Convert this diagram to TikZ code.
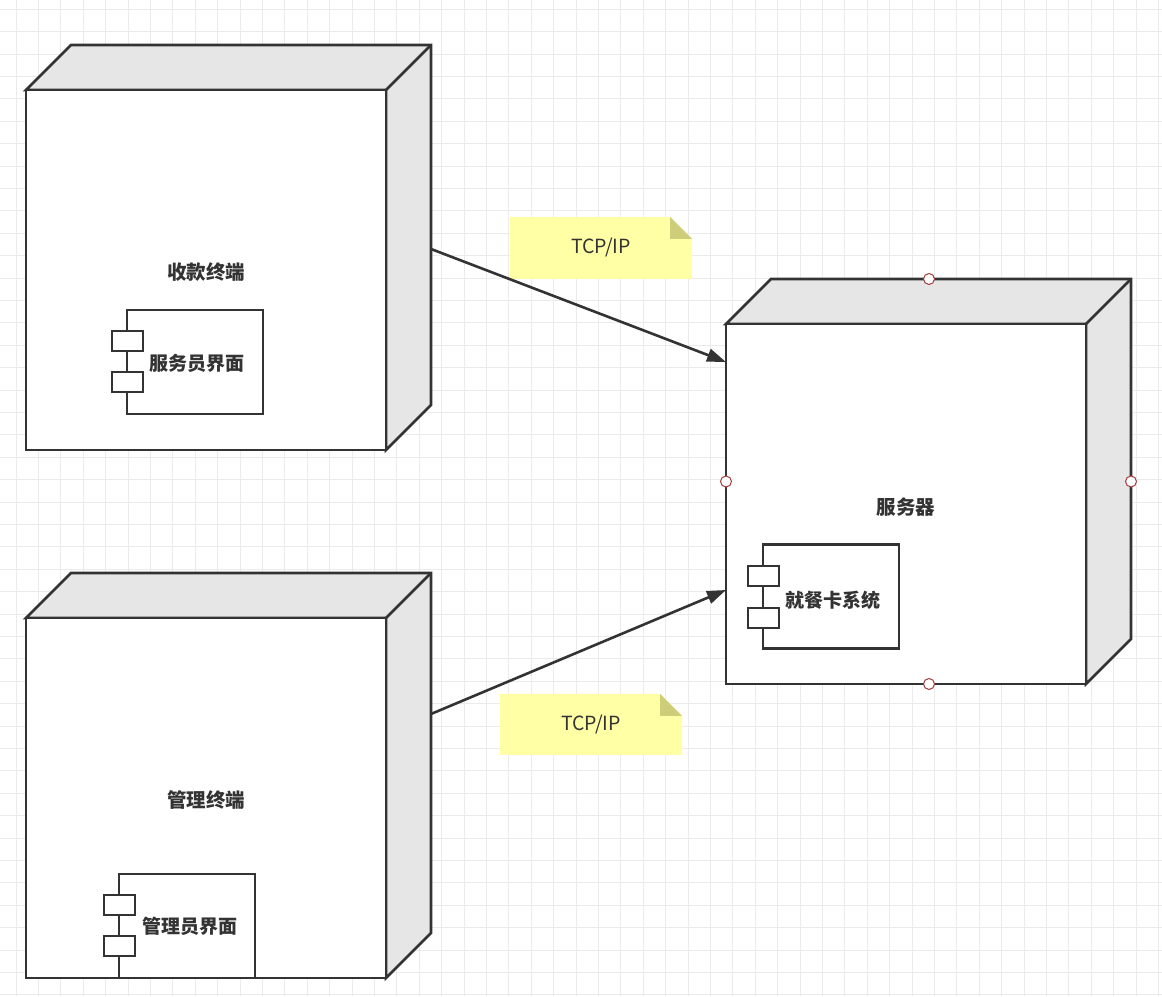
\documentclass[tikz,border=0pt]{standalone}
\usepackage{fontspec}
\setmainfont{Noto Sans CJK SC}
\usetikzlibrary{arrows.meta,calc}
\definecolor{ink}{HTML}{333333}
\definecolor{face}{HTML}{E6E6E6}
\definecolor{gridline}{HTML}{EBEBEB}
\definecolor{notefill}{HTML}{FFFFA6}
\definecolor{notefold}{HTML}{CDCD7A}
\definecolor{handle}{HTML}{A33B3B}
\tikzset{
  cube/.style={minimum width=405pt,minimum height=405pt,inner sep=0pt,outer sep=0pt},
  cubelabel/.style={font=\bfseries\fontsize{19.5}{22}\selectfont,text=ink},
  comp/.style={draw=ink,line width=2.4pt,fill=white,minimum width=136pt,minimum height=104pt,inner sep=0pt},
  port/.style={draw=ink,line width=2.4pt,fill=white,minimum width=31pt,minimum height=20pt,inner sep=0pt},
  complabel/.style={font=\bfseries\fontsize{19}{22}\selectfont,text=ink},
  edge/.style={draw=ink,line width=2.6pt,-{Triangle[length=19pt,width=13pt]}},
  notetext/.style={font=\fontsize{19.5}{22}\selectfont,text=ink},
  grip/.style={circle,draw=handle,line width=1pt,fill=white,minimum size=11pt,inner sep=0pt},
}
% three-dimensional deployment node: front face plus top and right faces
\newcommand{\deploynode}[1]{%
  \path[fill=face,draw=ink,line width=2.6pt,line join=miter]
    ($(#1.south west)+(0,360)$) -- ++(45,45) -- ++(360,0) -- ++(0,-360) -- ++(-45,-45) -- ++(0,360) -- cycle;
  \path[fill=white,draw=ink,line width=2.6pt]
    (#1.south west) rectangle ($(#1.south west)+(360,360)$);
  \draw[ink,line width=2.6pt] ($(#1.south west)+(360,360)$) -- ++(45,45);
}
% note with folded top-right corner
\newcommand{\notebox}[5]{% name, x0, y0(top), x1, y1(bottom)
  \fill[notefill] (#2,#3) -- (#4-22,#3) -- (#4,#3-22) -- (#4,#5) -- (#2,#5) -- cycle;
  \fill[notefold] (#4-22,#3) -- (#4,#3-22) -- (#4-22,#3-22) -- cycle;
  \coordinate (#1) at ({(#2+#4)/2},{(#3+#5)/2});
}
\begin{document}
\begin{tikzpicture}[x=1pt,y=1pt]
\useasboundingbox (0,0) rectangle (1162,996);
% background grid (y axis measured upward from the bottom edge)
\fill[white] (0,0) rectangle (1162,996);
\foreach \i in {0,...,52}{
  \pgfmathsetmacro{\gx}{16.1+22.4*\i}
  \draw[gridline,line width=1.1pt] (\gx,0) -- (\gx,996);
}
\foreach \i in {0,...,44}{
  \pgfmathsetmacro{\gy}{996-(9.3+22.4*\i)}
  \draw[gridline,line width=1.1pt] (0,\gy) -- (1162,\gy);
}

% deployment nodes
\node[cube] (pos) at (228.5,{996-247.5}) {};
\deploynode{pos}
\node[cubelabel] (poslbl) at (206,{996-272}) {收款终端};

\node[cube] (adm) at (228.5,{996-775.5}) {};
\deploynode{adm}
\node[cubelabel] (admlbl) at (206,{996-800}) {管理终端};

\node[cube] (srv) at (928.5,{996-481.5}) {};
\deploynode{srv}
\node[cubelabel] (srvlbl) at (906,{996-507}) {服务器};

% components
\node[comp] (waiter) at (195,{996-362}) {};
\node[port] (waiterp1) at (127.5,{996-341}) {};
\node[port] (waiterp2) at (127.5,{996-382}) {};
\node[complabel] at (197,{996-363}) {服务员界面};

\node[comp] (admui) at (187,{996-926}) {};
\node[port] (admuip1) at (119.5,{996-905}) {};
\node[port] (admuip2) at (119.5,{996-946}) {};
\node[complabel] at (190,{996-926}) {管理员界面};

\node[comp] (card) at (831,{996-596.5}) {};
\node[port] (cardp1) at (763.5,{996-576}) {};
\node[port] (cardp2) at (763.5,{996-618}) {};
\node[complabel] at (833,{996-600}) {就餐卡系统};

% notes
\notebox{note1}{510}{996-217}{692}{996-279}
\node[notetext] at (note1) {TCP/IP};
\notebox{note2}{500}{996-694}{682}{996-755}
\node[notetext] at (note2) {TCP/IP};

% connectors
\coordinate (posout) at (431,{996-249});
\coordinate (srvin1) at (726,{996-362});
\coordinate (admout) at (431,{996-714});
\coordinate (srvin2) at (726,{996-590});
\draw[edge] (posout) -- (srvin1);
\draw[edge] (admout) -- (srvin2);

% connection handles on the server node
\node[grip] at (929,{996-279}) {};
\node[grip] at (srv.west) {};
\node[grip] at (srv.east) {};
\node[grip] at (929,{996-684}) {};
\end{tikzpicture}
\end{document}
